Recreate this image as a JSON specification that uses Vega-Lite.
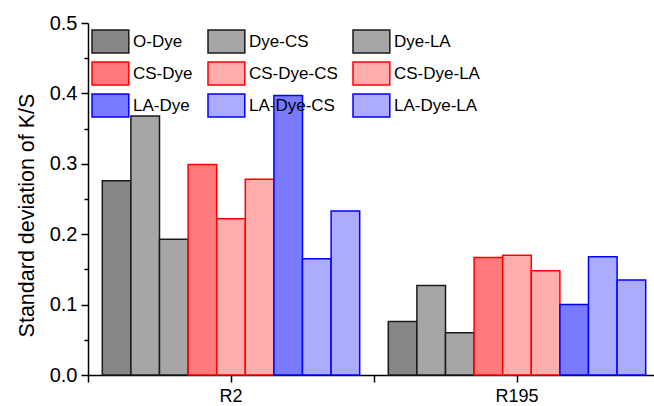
{
  "$schema": "https://vega.github.io/schema/vega-lite/v6.json",
  "autosize": {"type": "none"},
  "padding": {"left": 88, "top": 23, "right": 0, "bottom": 31},
  "width": 572,
  "height": 352,
  "background": "white",
  "config": {
    "view": {"stroke": null},
    "font": "Liberation Sans",
    "axis": {
      "domainColor": "#000", "tickColor": "#000", "labelColor": "#000", "titleColor": "#000",
      "domainWidth": 1.5, "tickWidth": 1.5, "labelFont": "Liberation Sans", "titleFont": "Liberation Sans",
      "grid": false
    }
  },
  "data": {"values": [
    {"dye": "R2", "sample": "O-Dye", "sd": 0.276},
    {"dye": "R2", "sample": "Dye-CS", "sd": 0.368},
    {"dye": "R2", "sample": "Dye-LA", "sd": 0.193},
    {"dye": "R2", "sample": "CS-Dye", "sd": 0.299},
    {"dye": "R2", "sample": "CS-Dye-CS", "sd": 0.222},
    {"dye": "R2", "sample": "CS-Dye-LA", "sd": 0.278},
    {"dye": "R2", "sample": "LA-Dye", "sd": 0.397},
    {"dye": "R2", "sample": "LA-Dye-CS", "sd": 0.165},
    {"dye": "R2", "sample": "LA-Dye-LA", "sd": 0.233},
    {"dye": "R195", "sample": "O-Dye", "sd": 0.076},
    {"dye": "R195", "sample": "Dye-CS", "sd": 0.127},
    {"dye": "R195", "sample": "Dye-LA", "sd": 0.060},
    {"dye": "R195", "sample": "CS-Dye", "sd": 0.167},
    {"dye": "R195", "sample": "CS-Dye-CS", "sd": 0.170},
    {"dye": "R195", "sample": "CS-Dye-LA", "sd": 0.148},
    {"dye": "R195", "sample": "LA-Dye", "sd": 0.100},
    {"dye": "R195", "sample": "LA-Dye-CS", "sd": 0.168},
    {"dye": "R195", "sample": "LA-Dye-LA", "sd": 0.135}
  ]},
  "layer": [
    {
      "mark": {"type": "bar", "strokeWidth": 1.5},
      "encoding": {
        "x": {
          "field": "dye", "type": "nominal", "sort": ["R2", "R195"],
          "scale": {"paddingInner": 0.1, "paddingOuter": 0.05},
          "axis": {"title": null, "labelFontSize": 18, "labelAngle": 0, "tickSize": 7, "labelPadding": 5}
        },
        "xOffset": {
          "field": "sample", "type": "nominal",
          "sort": ["O-Dye", "Dye-CS", "Dye-LA", "CS-Dye", "CS-Dye-CS", "CS-Dye-LA", "LA-Dye", "LA-Dye-CS", "LA-Dye-LA"],
          "scale": {"paddingInner": 0, "paddingOuter": 0}
        },
        "y": {
          "field": "sd", "type": "quantitative",
          "scale": {"domain": [0, 0.5], "nice": false, "zero": true},
          "axis": {
            "title": "Standard deviation of K/S",
            "values": [0, 0.05, 0.1, 0.15, 0.2, 0.25, 0.3, 0.35, 0.4, 0.45, 0.5],
            "labelExpr": "round(datum.value*100) % 10 == 0 ? format(datum.value, '.1f') : ''",
            "tickSize": {"condition": {"test": "round(datum.value*100) % 10 != 0", "value": 4}, "value": 7},
            "labelFontSize": 20, "labelPadding": 4,
            "titleFontSize": 21.5, "titleFontWeight": "normal",
            "titleAngle": -90, "titleBaseline": "alphabetic", "titleAlign": "center",
            "titleX": -55, "titleY": 192
          }
        },
        "fill": {
          "field": "sample", "type": "nominal",
          "scale": {
            "domain": ["O-Dye", "Dye-CS", "Dye-LA", "CS-Dye", "CS-Dye-CS", "CS-Dye-LA", "LA-Dye", "LA-Dye-CS", "LA-Dye-LA"],
            "range": ["#868686", "#a6a6a6", "#a6a6a6", "#ff7a7a", "#ffacac", "#ffacac", "#7a7aff", "#acacff", "#acacff"]
          },
          "legend": {
            "title": null, "orient": "none", "legendX": 3, "legendY": 6, "columns": 3, "direction": "horizontal",
            "symbolType": "M-1,-1H2.2V1H-1Z", "symbolSize": 529, "symbolStrokeWidth": 1.5,
            "labelFontSize": 17, "labelFont": "Liberation Sans", "labelColor": "#000",
            "labelOffset": 17, "columnPadding": 12, "rowPadding": 3, "labelLimit": 200, "symbolOpacity": 1
          }
        },
        "stroke": {
          "field": "sample", "type": "nominal",
          "scale": {
            "domain": ["O-Dye", "Dye-CS", "Dye-LA", "CS-Dye", "CS-Dye-CS", "CS-Dye-LA", "LA-Dye", "LA-Dye-CS", "LA-Dye-LA"],
            "range": ["#1a1a1a", "#1a1a1a", "#1a1a1a", "#ff0000", "#ff0000", "#ff0000", "#0000ff", "#0000ff", "#0000ff"]
          },
          "legend": {
            "title": null, "orient": "none", "legendX": 3, "legendY": 6, "columns": 3, "direction": "horizontal",
            "symbolType": "M-1,-1H2.2V1H-1Z", "symbolSize": 529, "symbolStrokeWidth": 1.5,
            "labelFontSize": 17, "labelFont": "Liberation Sans", "labelColor": "#000",
            "labelOffset": 17, "columnPadding": 12, "rowPadding": 3, "labelLimit": 200, "symbolOpacity": 1
          }
        }
      }
    },
    {
      "mark": {"type": "bar", "opacity": 0},
      "encoding": {
        "x": {
          "field": "dye", "type": "nominal", "sort": ["R2", "R195"],
          "scale": {"paddingInner": 0, "paddingOuter": 0},
          "axis": {"orient": "bottom", "title": null, "labels": false, "domain": false, "tickBand": "extent", "tickSize": 7}
        }
      }
    }
  ],
  "resolve": {"scale": {"x": "independent"}, "axis": {"x": "independent"}}
}
